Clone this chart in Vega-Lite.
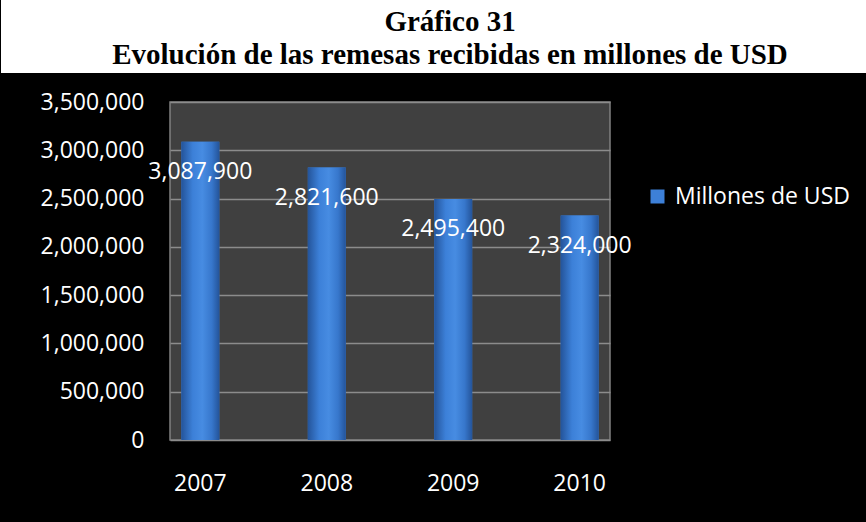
{
  "$schema": "https://vega.github.io/schema/vega-lite/v6.json",
  "background": "black",
  "padding": {"left": 0, "top": 0, "right": 0, "bottom": 27},
  "spacing": 17,
  "bounds": "full",
  "vconcat": [
    {
      "width": 866,
      "height": 73,
      "view": {"fill": "white", "stroke": null},
      "data": {"values": [
        {"linea": 1, "texto": "Gráfico 31", "c": "t"},
        {"linea": 2, "texto": "Evolución de las remesas recibidas en millones de USD", "c": "t"}
      ]},
      "mark": {"type": "text", "font": "Liberation Serif", "fontWeight": "bold", "fontSize": 29, "baseline": "alphabetic", "align": "center", "color": "black", "dy": 11},
      "encoding": {
        "x": {"field": "c", "type": "nominal", "axis": null, "scale": {"type": "point", "range": [280, 280], "padding": 0}},
        "y": {"field": "linea", "type": "ordinal", "scale": {"type": "point", "padding": 0.606},
          "axis": {"title": null, "labels": false, "ticks": false, "grid": false, "domainColor": "white", "domainWidth": 338, "domainCap": "butt", "offset": 0, "translate": 0, "minExtent": 169, "maxExtent": 169}},
        "text": {"field": "texto"}
      }
    },
    {
      "width": 440,
      "height": 338,
      "view": {"fill": "#404040", "stroke": "#808080", "strokeWidth": 1.5},
      "data": {"values": [
        {"anio": "2007", "valor": 3087900, "serie": "Millones de USD"},
        {"anio": "2008", "valor": 2821600, "serie": "Millones de USD"},
        {"anio": "2009", "valor": 2495400, "serie": "Millones de USD"},
        {"anio": "2010", "valor": 2324000, "serie": "Millones de USD"}
      ]},
      "encoding": {
        "x": {"field": "anio", "type": "ordinal", "scale": {"type": "band", "paddingInner": 0.7, "paddingOuter": 0.09},
          "axis": {"title": null, "labelAngle": 0, "ticks": false, "domain": false, "grid": false, "labelFont": "Open Sans", "labelFontSize": 23, "labelColor": "white", "labelPadding": 32}},
        "y": {"field": "valor", "type": "quantitative", "scale": {"domain": [0, 3500000], "nice": false},
          "axis": {"title": null, "values": [0, 500000, 1000000, 1500000, 2000000, 2500000, 3000000, 3500000], "format": ",d", "grid": true, "gridColor": "#8c8c8c", "gridWidth": 1.5, "domain": false, "ticks": false, "labelPadding": 26, "labelFont": "Open Sans", "labelFontSize": 23, "labelColor": "white", "minExtent": 169}}
      },
      "layer": [
        {
          "mark": {"type": "bar"},
          "encoding": {
            "color": {"field": "serie", "type": "nominal", "scale": {"range": ["#3d80d8"]},
              "legend": {"title": null, "orient": "none", "legendX": 476, "legendY": 185, "padding": 0, "symbolType": "square", "symbolSize": 196, "symbolStrokeWidth": 0, "labelFont": "Open Sans", "labelFontSize": 23, "labelColor": "white", "labelOffset": 6, "labelLimit": 400}}
          }
        },
        {
          "mark": {"type": "bar", "fill": {"gradient": "linear", "x1": 0, "x2": 1, "y1": 0, "y2": 0, "stops": [
            {"offset": 0, "color": "#24549a"},
            {"offset": 0.3, "color": "#3c80d8"},
            {"offset": 0.55, "color": "#478ce2"},
            {"offset": 0.8, "color": "#3777cc"},
            {"offset": 1, "color": "#24549a"}
          ]}}
        },
        {
          "mark": {"type": "text", "dy": 30, "color": "white", "font": "Open Sans", "fontSize": 23, "baseline": "middle", "align": "center"},
          "encoding": {"text": {"field": "valor", "type": "quantitative", "format": ","}}
        }
      ]
    }
  ]
}
